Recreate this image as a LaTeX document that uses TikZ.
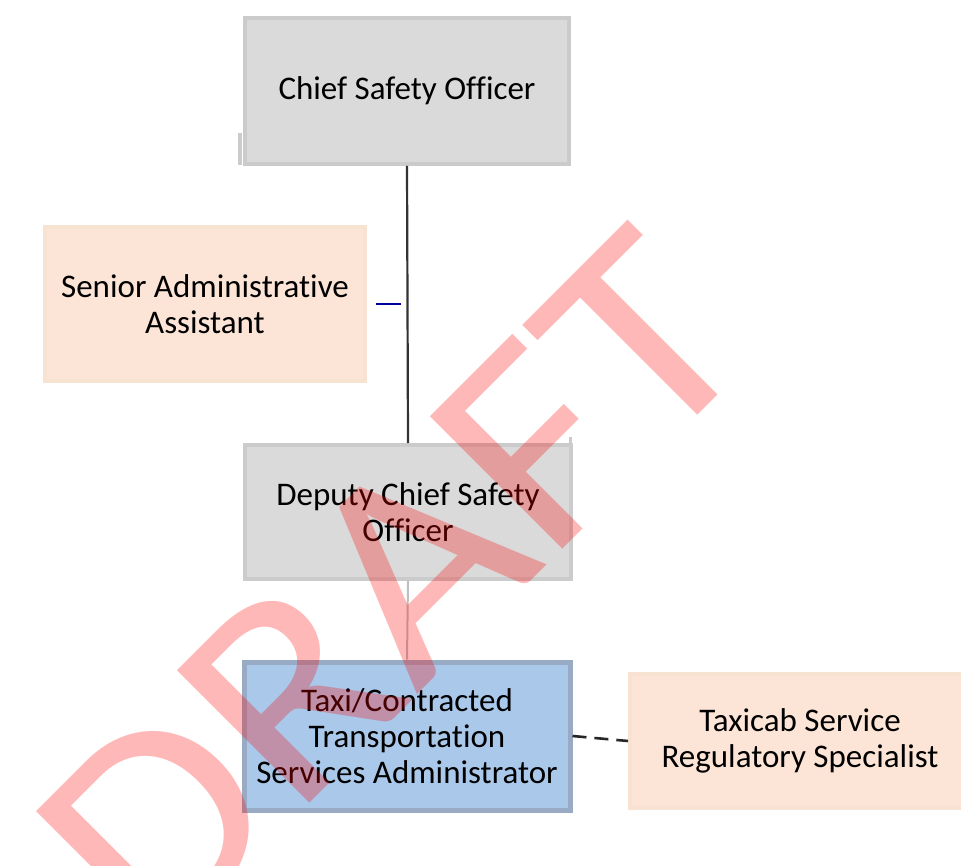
\documentclass[tikz,border=0pt]{standalone}
\usepackage{fontspec}
\setmainfont[Ligatures=NoCommon]{Carlito}
\usepackage{graphicx}

\definecolor{boxgray}{HTML}{DADADA}
\definecolor{edgegray}{HTML}{CBCBCB}
\definecolor{peach}{HTML}{FCE5D6}
\definecolor{peachedge}{HTML}{F8E2D2}
\definecolor{taxiblue}{HTML}{A9C8EA}
\definecolor{taxiedge}{HTML}{98AAC4}

\begin{document}
\begin{tikzpicture}[
  x=0.5pt, y=-0.5pt,
  post/.style={
    rectangle,
    align=center,
    inner sep=2pt,
    font=\fontsize{16.5}{18}\selectfont
  },
  graypost/.style={post, fill=boxgray, draw=edgegray, line width=2pt},
  peachpost/.style={post, fill=peach, draw=peachedge, line width=2pt},
  bluepost/.style={post, fill=taxiblue, draw=taxiedge, line width=2.5pt},
  watermark/.style={
    inner sep=0pt,
    text=red,
    text opacity=0.28,
    font=\fontsize{146}{146}\selectfont
  }
]
  \clip (0,0) rectangle (961,865);
  \useasboundingbox (0,0) rectangle (961,865);

  \node[graypost,minimum width=162pt,minimum height=73pt] (cso) at (407,91) {Chief Safety Officer};
  \node[peachpost,minimum width=160pt,minimum height=77pt] (saa) at (205,304) {Senior Administrative\\Assistant};
  \node[graypost,minimum width=163pt,minimum height=67pt] (dcso) at (408,512) {Deputy Chief Safety\\Officer};
  \node[bluepost,minimum width=163pt,minimum height=74pt] (tcsa) at (407,736) {Taxi/Contracted\\Transportation\\Services Administrator};
  \node[peachpost,minimum width=170pt,minimum height=67pt] (tsrs) at (800,741) {Taxicab Service\\Regulatory Specialist};

  % reporting lines
  \draw[black!80,line width=1.1pt] (cso.south) -- (dcso.north);
  \draw[blue!60!black,line width=0.7pt] ([xshift=-3]cso.south |- saa.east) -- ++(-25,0);
  \draw[black!25,line width=1pt] (dcso.south) -- (tcsa.north);
  \draw[black!85,line width=1.3pt,dash pattern=on 7pt off 4pt] (tcsa.east) -- (tsrs.west);

  % stray marks
  \draw[black!20,line width=2pt] (240,133) -- (240,165);
  \draw[black!20,line width=1.5pt] (570,437) -- (570,455);

  \node[watermark,rotate=45] (draft) at (392,588) {\scalebox{1.1}[1]{DRAFT}};
\end{tikzpicture}
\end{document}
